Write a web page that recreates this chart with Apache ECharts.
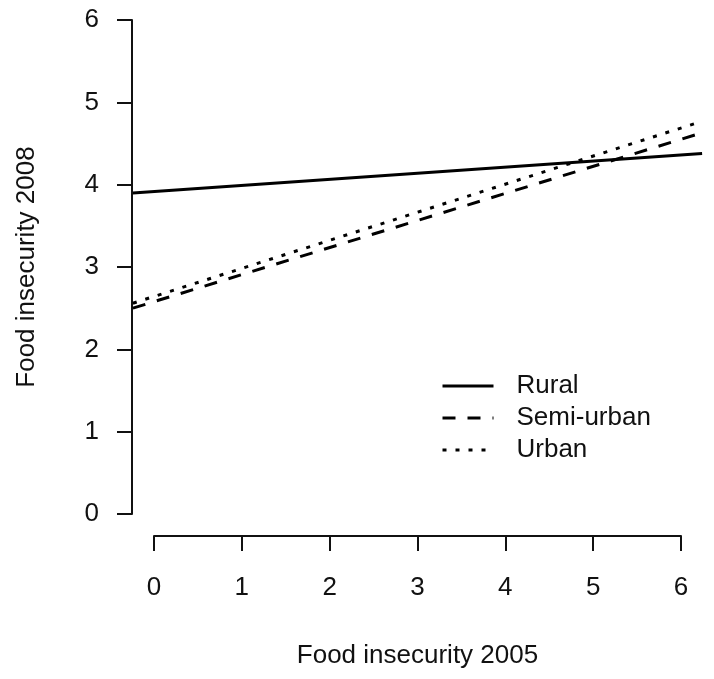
<!DOCTYPE html>
<html>
<head>
<meta charset="utf-8">
<script src="https://cdn.jsdelivr.net/npm/echarts@6/dist/echarts.min.js"></script>
<style>
  html, body { margin: 0; padding: 0; background: #fff; }
  #chart { width: 714px; height: 679px; }
</style>
</head>
<body>
<div id="chart"></div>
<script>
// fitted lines: [x, y] at the left and right plot edges
const groups = ["Rural", "Semi-urban", "Urban"];
const rural = [[-0.24, 3.90], [6.24, 4.38]];
const semiUrban = [[-0.24, 2.50], [6.24, 4.63]];
const urban = [[-0.24, 2.56], [6.24, 4.77]];
const xTicks = [0, 1, 2, 3, 4, 5, 6];
const yTicks = [0, 1, 2, 3, 4, 5, 6];
const plotRange = [-0.24, 6.24]; // R pads the data range by 4% on each side

const font = "'Liberation Sans', Arial, sans-serif";
const ink = "#111";

// visible R-style axes: line only from first to last tick, pushed out from the plot
function axis(name, ticks, gap, labelMargin) {
  return {
    type: "value",
    gridIndex: 0,
    min: ticks[0],
    max: ticks[ticks.length - 1],
    interval: 1,
    offset: 22,
    name: name,
    nameLocation: "middle",
    nameGap: gap,
    nameTextStyle: { fontFamily: font, fontSize: 26, color: ink },
    axisLine: { show: true, onZero: false, lineStyle: { color: ink, width: 2 } },
    axisTick: { show: true, length: 15, lineStyle: { color: ink, width: 2 } },
    axisLabel: { fontFamily: font, fontSize: 26, color: ink, margin: labelMargin },
    splitLine: { show: false },
  };
}

// hidden axes spanning the padded plot region, used by the lines
function plotAxis() {
  return {
    type: "value",
    gridIndex: 1,
    min: plotRange[0],
    max: plotRange[1],
    show: false,
    splitLine: { show: false },
  };
}

function lineSeries(name, data, type) {
  return {
    name: name,
    type: "line",
    xAxisIndex: 1,
    yAxisIndex: 1,
    data: data,
    symbol: "none",
    silent: true,
    lineStyle: { color: "#000", width: 3, type: type, cap: "butt" },
    itemStyle: { color: "#000" },
  };
}

const chart = echarts.init(document.getElementById("chart"));
chart.setOption({
  animation: false,
  backgroundColor: "#fff",
  grid: [
    { left: 154, right: 33, top: 20, bottom: 165 },
    { left: 132.9, right: 11.9, top: 0.24, bottom: 145.24 },
  ],
  xAxis: [axis("Food insecurity 2005", xTicks, 107, 39), plotAxis()],
  yAxis: [axis("Food insecurity 2008", yTicks, 92, 33), plotAxis()],
  legend: {
    data: groups,
    orient: "vertical",
    left: 441,
    top: 373,
    padding: 0,
    itemWidth: 51,
    itemHeight: 14,
    itemGap: 6,
    itemStyle: { opacity: 0 },
    lineStyle: { width: 3 },
    textStyle: { fontFamily: font, fontSize: 26, color: ink, padding: [0, 0, 0, 18] },
  },
  series: [
    lineSeries(groups[0], rural, "solid"),
    lineSeries(groups[1], semiUrban, [13, 12]),
    lineSeries(groups[2], urban, [4, 9]),
  ],
});
</script>
</body>
</html>
